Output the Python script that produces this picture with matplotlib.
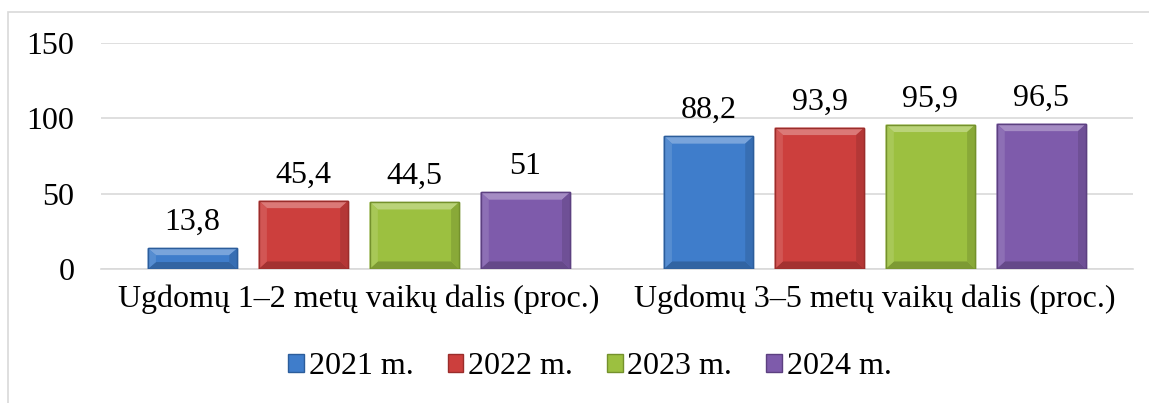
import numpy as np
import matplotlib
matplotlib.use("Agg")
import matplotlib.pyplot as plt
from matplotlib.patches import Rectangle, Polygon
from matplotlib.colors import to_rgb

categories = ["Ugdomų 1–2 metų vaikų dalis (proc.)", "Ugdomų 3–5 metų vaikų dalis (proc.)"]
years = ["2021 m.", "2022 m.", "2023 m.", "2024 m."]
values = [
    [13.8, 88.2],
    [45.4, 93.9],
    [44.5, 95.9],
    [51, 96.5],
]
labels = [
    ["13,8", "88,2"],
    ["45,4", "93,9"],
    ["44,5", "95,9"],
    ["51", "96,5"],
]
colors = ["#3f7dcb", "#cc3f3d", "#9cc040", "#7e5bab"]
edges = ["#2c5d9b", "#9a2d2b", "#74912c", "#5c4080"]

def shade(c, f):
    r = np.array(to_rgb(c))
    if f > 0:
        return tuple(r + (1 - r) * f)
    return tuple(r * (1 + f))

plt.rcParams['font.family'] = ['Liberation Serif', 'DejaVu Serif']
fs = 23

fig = plt.figure(figsize=(11.49, 4.03), dpi=100)
fig.patches.append(Rectangle((8/1149, -0.1), 1.2, (403-12)/403 + 0.1, transform=fig.transFigure,
                             fill=False, edgecolor="#d9d9d9", lw=1.2))
ax = fig.add_axes([101/1149, (403-269)/403, (1133-101)/1149, (269-43)/403])

x = np.arange(len(categories))
w = 0.174
step = 0.215
for i in range(len(years)):
    xs = x + (i - 1.5) * step
    bars = ax.bar(xs, values[i], w, color=colors[i], edgecolor=edges[i], lw=1.0,
                  label=years[i], zorder=3)
    # bevel look
    for b in bars:
        x0, y0 = b.get_x(), b.get_y()
        bw, bh = b.get_width(), b.get_height()
        bx = 0.016
        by = min(5.0, bh / 3)
        x1, y1 = x0 + bw, y0 + bh
        ax.add_patch(Polygon([(x0, y1), (x1, y1), (x1 - bx, y1 - by), (x0 + bx, y1 - by)],
                             color=shade(colors[i], 0.3), lw=0, zorder=4))
        ax.add_patch(Polygon([(x0, y0), (x1, y0), (x1 - bx, y0 + by), (x0 + bx, y0 + by)],
                             color=shade(colors[i], -0.2), lw=0, zorder=4))
        ax.add_patch(Polygon([(x0, y0), (x0, y1), (x0 + bx, y1 - by), (x0 + bx, y0 + by)],
                             color=shade(colors[i], 0.12), lw=0, zorder=4))
        ax.add_patch(Polygon([(x1, y0), (x1, y1), (x1 - bx, y1 - by), (x1 - bx, y0 + by)],
                             color=shade(colors[i], -0.12), lw=0, zorder=4))
        ax.add_patch(Rectangle((x0, y0), bw, bh, fill=False, edgecolor=edges[i], lw=1.0, zorder=5))
    for xi, v, t in zip(xs, values[i], labels[i]):
        ax.annotate(t, (xi, v), xytext=(0, 8), textcoords="offset points",
                    ha="center", va="bottom", fontsize=fs)

ax.set_xlim(-0.5, 1.5)
ax.set_ylim(0, 150)
ax.set_yticks([0, 50, 100, 150])
ax.set_xticks(x)
ax.set_xticklabels(categories, fontsize=fs)
ax.tick_params(axis="y", length=0, pad=19, labelsize=fs)
ax.tick_params(axis="x", length=0, pad=11)
ax.grid(axis="y", color="#d9d9d9", lw=1.2, zorder=0)
for s in ["top", "right", "left"]:
    ax.spines[s].set_visible(False)
ax.spines["bottom"].set_color("#d9d9d9")
ax.spines["bottom"].set_linewidth(1.2)

fig.legend(loc="center", bbox_to_anchor=(590/1149, (403-367)/403), ncol=4, frameon=False,
           fontsize=fs, handlelength=0.5, handleheight=0.5, handletextpad=0.15,
           columnspacing=1.05)

fig.savefig("out.png", dpi=100)
